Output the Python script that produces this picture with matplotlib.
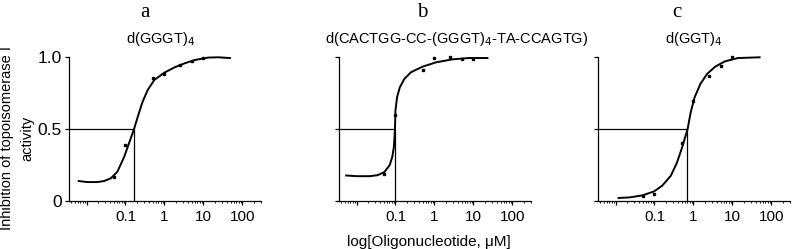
import matplotlib
matplotlib.use("Agg")
import matplotlib.pyplot as plt
from matplotlib.ticker import FixedLocator, LogLocator, NullFormatter

plt.rcParams['font.family'] = ['Liberation Sans', 'DejaVu Sans']

# measured points (conc in uM, fraction inhibited)
conc = [0.05, 0.1, 0.5, 1, 2.5, 5, 10]
inhib_a = [0.163, 0.39, 0.853, 0.886, 0.949, 0.972, 0.998]
inhib_b = [0.183, 0.595, 0.912, 0.995, 1.0, 0.99, 0.99]
inhib_c = [0.03, 0.049, 0.402, 0.698, 0.872, 0.937, 1.0]

# fitted curves
fit_a_x = [0.0063, 0.0105, 0.019, 0.028, 0.042, 0.062, 0.093, 0.123, 0.166, 0.214,
           0.275, 0.372, 0.55, 1.0, 1.82, 3.3, 6.0, 13.2, 24, 48]
fit_a_y = [0.137, 0.130, 0.130, 0.137, 0.156, 0.202, 0.307, 0.40, 0.50, 0.598,
           0.69, 0.772, 0.842, 0.893, 0.93, 0.958, 0.981, 0.998, 1.0, 0.995]
fit_b_x = [0.0054, 0.01, 0.022, 0.035, 0.052, 0.071, 0.083, 0.091, 0.097, 0.1,
           0.11, 0.129, 0.17, 0.25, 0.5, 1.1, 2.95, 7.8, 23]
fit_b_y = [0.176, 0.171, 0.171, 0.178, 0.20, 0.248, 0.306, 0.375, 0.50, 0.63,
           0.722, 0.79, 0.85, 0.896, 0.935, 0.965, 0.986, 0.995, 0.995]
fit_c_x = [0.012, 0.023, 0.049, 0.098, 0.158, 0.263, 0.38, 0.513, 0.71, 0.85,
           1.07, 1.51, 2.24, 3.63, 6.46, 14.1, 50]
fit_c_y = [0.019, 0.023, 0.037, 0.065, 0.105, 0.174, 0.267, 0.372, 0.50, 0.616,
           0.72, 0.814, 0.884, 0.935, 0.972, 0.995, 1.0]

ic50 = [0.167, 0.097, 0.70]
letters = ['a', 'b', 'c']
titles = [r'd(GGGT)$_4$', r'd(CACTGG-CC-(GGGT)$_4$-TA-CCAGTG)', r'd(GGT)$_4$']

xticks = [0.01, 0.1, 1, 10, 100]
xticklabels = ['', '0.1', '1', '10', '100']
yticks = [0, 0.5, 1.0]
yticklabels = ['0', '0.5', '1.0']

W, H = 794, 249
fig = plt.figure(figsize=(W / 100, H / 100), dpi=100)

lefts = [69, 339, 598]
letter_x = [145, 422, 677]
title_x = [160, 457, 694]
xlim = (10 ** -2.45, 10 ** 2.48)

panels = [(inhib_a, fit_a_x, fit_a_y), (inhib_b, fit_b_x, fit_b_y), (inhib_c, fit_c_x, fit_c_y)]

for i, (pts, fx, fy) in enumerate(panels):
    ax = fig.add_axes([lefts[i] / W, 48.3 / H, 192 / W, 143.4 / H])
    ax.set_xscale('log')
    ax.set_xlim(*xlim)
    ax.set_ylim(0, 1.0)

    ax.plot(fx, fy, color='black', lw=1.4, clip_on=False)
    ax.plot(conc, pts, 's', color='black', ms=2.1, clip_on=False)
    ax.hlines(0.5, xlim[0], ic50[i], color='black', lw=0.9)
    ax.vlines(ic50[i], 0, 0.5, color='black', lw=0.9)

    for s in ['top', 'right']:
        ax.spines[s].set_visible(False)
    for s in ['left', 'bottom']:
        ax.spines[s].set_linewidth(0.9)

    ax.xaxis.set_major_locator(FixedLocator(xticks))
    ax.set_xticklabels(xticklabels)
    ax.xaxis.set_minor_locator(LogLocator(base=10, subs=range(2, 10), numticks=20))
    ax.xaxis.set_minor_formatter(NullFormatter())
    ax.set_yticks(yticks)
    if i == 0:
        ax.set_yticklabels(yticklabels)
    else:
        ax.set_yticklabels([])
    ax.tick_params(axis='both', which='major', direction='out', length=3, width=0.9)
    ax.tick_params(axis='x', which='major', labelsize=11, pad=4)
    ax.tick_params(axis='y', which='major', labelsize=12.5, pad=2)
    ax.tick_params(axis='x', which='minor', direction='out', length=1.6, width=0.6)

    fig.text(letter_x[i] / W, 1 - 17 / H, letters[i], family='Liberation Serif',
             fontsize=15, ha='center', va='baseline')
    fig.text(title_x[i] / W, 1 - 43 / H, titles[i], fontsize=10.5,
             ha='center', va='baseline')

fig.text(17 / W, 1 - 138 / H, 'Inhibition of topoisomerase I\nactivity', rotation=90,
         fontsize=10.5, ha='center', va='center', linespacing=1.6)
fig.text(429 / W, 1 - 246 / H, r'log[Oligonucleotide, μM]', fontsize=11,
         ha='center', va='baseline')

fig.savefig('out.png', dpi=100)
